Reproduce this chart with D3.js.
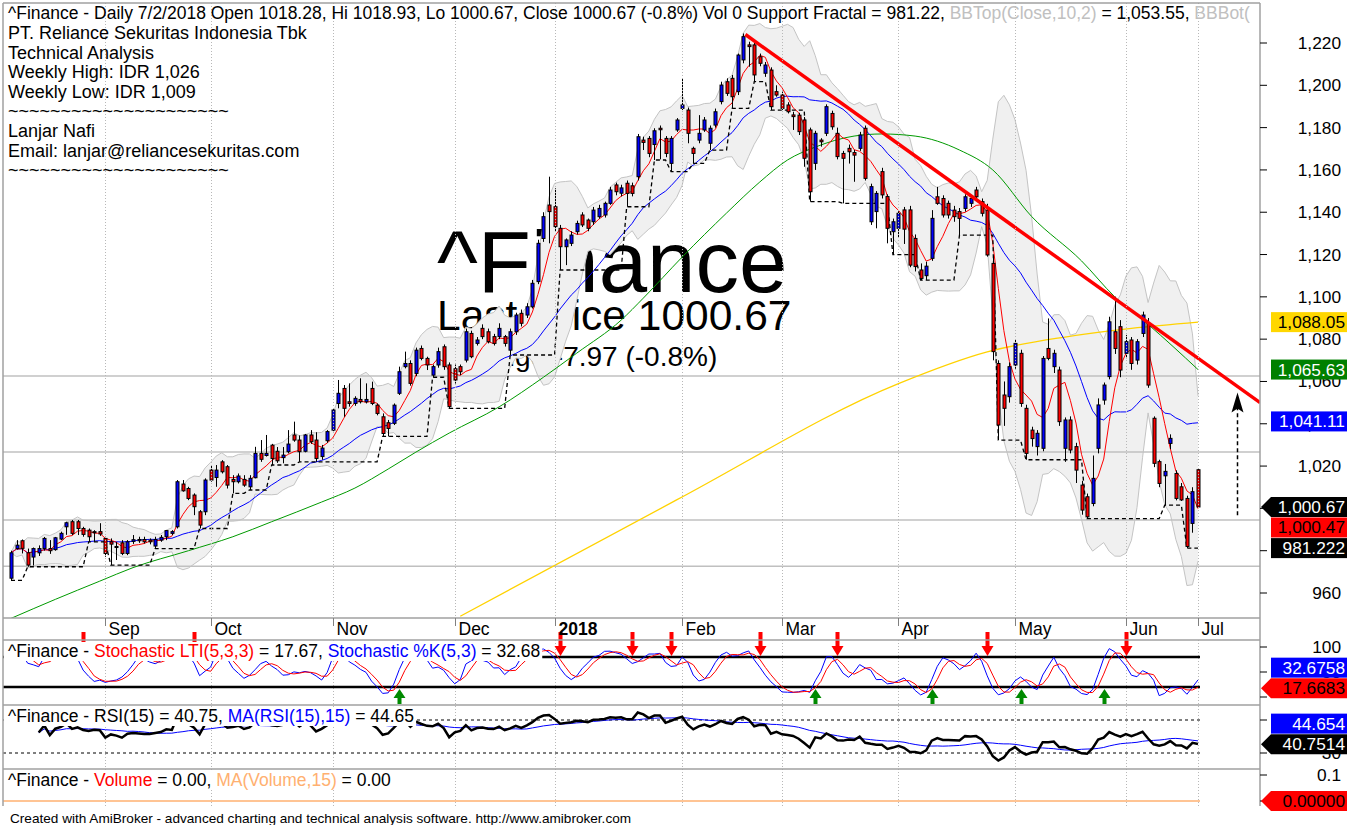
<!DOCTYPE html>
<html><head><meta charset="utf-8">
<script src="https://cdn.jsdelivr.net/npm/d3@7"></script>
<style>body{margin:0;background:#fff;} svg{display:block;font-family:Arial,"Liberation Sans",sans-serif;} text{white-space:pre;}</style>
</head><body><svg id="c" width="1355" height="825"></svg>
<script>
// ---------------- DATA ----------------
const open=[967,981,984.7,979,977,979,981,981,980.5,985.5,991.3,993.7,993.7,990.5,989.7,989,989,985.8,984.2,982,983.7,978.7,984.4,985.3,985.3,985,982.2,985,986.6,988.2,
991.3,1011.5,1009.4,1006.3,998.4,998.4,1018.1,1014.6,1022,1019.7,1013.7,1012.6,1013.7,1010.2,1014.5,1026,1025,1029.9,1027,1024,1026.8,1034.7,1032.3,1027,1034.7,1032.3,1024.5,1032,1037,1049.6,
1056.7,1050.4,1049.6,1051.5,1050.4,1056.7,1048.8,1043.3,1040.5,1040.2,1054.4,1067,1068.5,1063.8,1075.6,1070.9,1063,1067.8,1076.4,1067.8,1066,1067,1070.1,1082.7,1078,1085.1,1083.5,1081.2,1081.2,1081.2,
1074.8,1083.5,1092.2,1091.4,1095.3,1107.2,1127.6,1143.4,1142.6,1132.4,1123.7,1125.3,1130.8,1138.7,1136.3,1135.5,1137.9,1138.7,1144.2,1152.9,1149,1153.7,1152.5,1156.8,1174.1,1174.9,1172,1179.7,1174.9,1163.1,
1178.9,1189.1,1188.3,1170.2,1174.1,1178.9,1172.6,1181.2,1192.3,1201.7,1203.3,1197,1212,1219.1,1219.1,1213.5,1205.7,1207.2,1197,1195.4,1190.7,1186,1185.9,1183.6,1178.9,1163.1,1174.1,1177.3,1186.7,1177.3,
1167.8,1170.2,1168.2,1170.2,1179.7,1135.5,1140.3,1159.2,1147.4,1130.8,1132.4,1141.1,1141.1,1127.6,1112.7,1110,1118.2,1147.3,1146.5,1144.2,1141,1140.3,1141.8,1144.2,1150.5,1145,1141,1115.8,1068.5,1053.6,
1052.8,1067.8,1073.3,1047.3,1037,1029.2,1028.4,1075.6,1067,1065.4,1028.4,1041.8,1029.2,1011,1005.5,1002.3,1028.4,1051.2,1062.3,1083.5,1085.9,1073.3,1079.6,1070.1,1082.7,1087.4,1042.6,1022.1,1015.4,1030.7,
1016.5,1010.2,1004.7,992.9,1018.28];
const high=[980,985,985.3,981,981.5,982.5,986.5,985,986.5,989,993.7,994.5,994.5,991.3,990.5,989.7,993,986.6,985.8,984.2,985,985,987.4,986.6,986.6,985.8,986.6,987.4,989.7,989.7,
1013.4,1013.4,1010.2,1007.1,999.2,1014.2,1020.5,1020.5,1022.8,1020.5,1015.7,1016.5,1015.7,1015.7,1029.1,1032.3,1034.7,1030.5,1029,1029,1037,1041,1034.5,1035.2,1037,1036,1030,1037,1047,1060.7,
1058.3,1059.1,1053,1061.5,1059.1,1059.9,1049.6,1044.9,1041.8,1049.6,1067,1074.1,1070,1076,1077,1071.7,1068,1076,1077.5,1069,1068,1068,1085,1084,1081,1087,1085,1082.5,1087.5,1082,
1085,1092.5,1094,1097,1108,1127,1140,1156.8,1151.3,1134,1127.6,1131,1136,1140,1137,1142.5,1143.5,1145,1152,1154,1153,1155,1154,1177,1175.7,1176,1179.7,1181,1176,1176,
1184.5,1203.3,1189.5,1171,1185.9,1185,1181,1189,1201.7,1203.3,1204.9,1215,1224.5,1220.6,1220,1215,1211,1208.5,1200,1197,1192,1187.5,1187,1185,1180,1178.5,1175,1191,1188,1180,
1169,1172,1169.5,1178,1181,1153.5,1150,1161,1148.5,1137,1140.5,1142.5,1143,1129.5,1115.8,1116.6,1141,1152,1148,1145.5,1143,1142,1148.5,1148,1152,1146.5,1144,1119,1070,1060,
1069,1080,1075,1049,1038.6,1037,1072,1089.8,1075,1067,1043,1043.5,1031,1013,1007,1025,1052,1059.5,1090.6,1100.1,1089,1082,1081,1080,1093,1090,1043.5,1023,1021,1035,
1018,1012,1006,1010,1018.93];
const low=[966,980.5,978.7,972.4,973,977.5,980,978.5,980,985,987.5,987.4,987.4,986.6,984.2,984.2,987,977.1,973.2,975.6,977.9,977.9,983.2,983.7,983.4,983,981,984.2,985,987.4,
990.5,1007.9,1003.9,996.8,990.5,996.8,1012.6,1010.2,1016.5,1009.4,1007.1,1011.8,1010.2,1008.7,1014.2,1022,1024.5,1020.5,1021.5,1021.3,1026,1031.5,1022,1026.5,1030.5,1022,1023,1031,1036.5,1047.3,
1043.3,1048.1,1048.5,1049.6,1049.6,1048.8,1044,1034,1034,1039.4,1053.6,1066.2,1058,1062.5,1070,1065.4,1062,1066.5,1065.5,1047.3,1059,1063,1069,1071,1077,1080,1078,1077,1080,1076.5,
1072.5,1082,1086,1090,1094.5,1106,1126,1125.3,1130.8,1112.7,1115,1124,1129.5,1133,1131,1134,1137,1137.5,1143.5,1148,1147.5,1142.6,1147.5,1155,1169.4,1166,1164.7,1165,1166,1159.2,
1178,1188.3,1172.6,1163.1,1172.6,1178,1169.4,1180,1191,1195,1189.1,1195.4,1210.4,1208.8,1201.7,1209,1204,1188.3,1194.6,1188.3,1186.7,1178.9,1176.5,1161.5,1145,1160,1171,1176,1179,1165,
1144.2,1163,1154.4,1169,1155,1134,1132.4,1146.5,1125.3,1120,1128,1125,1114,1112,1107.9,1108,1117,1143.5,1137.5,1137,1135.5,1129.2,1140.3,1142.5,1146,1138,1119,1070,1032.3,1039,
1050,1066,1048,1023,1029.2,1025,1027,1070,1064,1039,1022,1026,1012,997,995.2,1001,1026,1049,1061,1073,1062,1071,1065.5,1068,1081,1057,1019.5,1010,1001.5,1028,
1003.8,1003.5,981.22,988.5,1000.67];
const close=[979,982.6,981.1,973.2,981,981,985.8,980,986.1,988.2,993.2,988.2,990.5,987.7,986.6,988.5,987.9,978.7,983.1,981.5,978.7,984.2,985.2,984.7,984.2,984.2,985.3,986.3,989.5,989,
1012.6,1008.3,1004.7,1000.8,992.1,1013.4,1013.4,1018.1,1017.3,1011,1012.6,1015.3,1011,1014.2,1026,1023.2,1026,1023.6,1022.5,1025.2,1030.4,1032.3,1026.8,1034.7,1031.5,1023.6,1028.5,1036.3,1046.5,1054.4,
1047.3,1049.6,1052,1050.4,1051.5,1049.6,1044.9,1035.4,1037.8,1048.8,1064.6,1068.5,1059.1,1074.8,1070.9,1067.8,1067,1074.1,1067,1048.1,1060.7,1064.6,1083.5,1071.7,1079.6,1081.2,1078.8,1078,1085.1,1078,
1083.5,1091.4,1087.5,1095.3,1106.4,1125.3,1137.9,1140.3,1133.2,1123.7,1126.9,1129.2,1134.7,1134,1132.4,1141,1141.8,1144.2,1150.5,1149.7,1151.5,1148.9,1148.9,1175.7,1173,1167.8,1178.5,1179,1167.8,1174.9,
1183.6,1190.7,1177.3,1167.8,1177.3,1183.6,1179.7,1187.5,1200.1,1196.2,1194.6,1214.3,1223,1218.3,1204.9,1210.4,1209.6,1189.9,1195.4,1189.1,1187.5,1185.2,1178.1,1165.5,1149.7,1177.3,1173.3,1189.9,1180.4,1166.3,
1165.5,1168.6,1167,1176.5,1156,1152.1,1148.9,1148.2,1132.4,1135.5,1139.5,1132,1115,1114.3,1108.7,1114.5,1137.1,1144.2,1138.7,1138.7,1137.9,1137.1,1147.3,1146.5,1147.3,1139.5,1119.8,1074.1,1039.4,1047.3,
1067,1078,1049.6,1026,1033,1035.5,1070.9,1070.9,1073.3,1041,1041.8,1027.6,1018.1,999.2,996,1014.2,1048.9,1058.3,1088.2,1075.6,1065.4,1078.8,1068.5,1078.8,1091.4,1058.3,1021.3,1011.8,1017.5,1033.1,
1004.7,1004,982,1007.9,1000.67];

// MA(50) and MA(200) (their history starts before the visible window)
const ma50Idx=[0,8,16,22,32,40,47,56,62,68,73,79,88,96,102,110,114,121,129,135,140,145,152,157,163,171,177,184,193,199,205,214];
const ma50Val=[948,957,965.6,972,980,986.6,993.7,1003,1009.6,1018.6,1026.6,1035.6,1048,1062,1073.4,1089,1099.4,1118.8,1139.6,1154.3,1164.7,1170.8,1176,1177,1176,1169.4,1160,1138,1117,1100,1087,1065.63];
const ma200Idx=[81,120,160,176,190,202,214];
const ma200Val=[949,1004,1059,1074,1081,1085.1,1088.05];

const monthLabels=['Sep','Oct','Nov','Dec','2018','Feb','Mar','Apr','May','Jun','Jul'];
const monthIdx=[17,36,58,80,98,121,139,160,181,201,214];
const priceTicks=[960,980,1000,1020,1040,1060,1080,1100,1120,1140,1160,1180,1200,1220];
const hLevels=[1062.6,1026.6,994.5,972.7];
const sellIdx=[13,33,99,112,119,135,149,176,201];
const buyIdx=[70,145,166,182,197];
const trendIdx=[132.4,225.2], trendVal=[1224,1050];
const arrowIdx=221, arrowFrom=996.8, arrowTo=1054.8;

const infoLines=['PT. Reliance Sekuritas Indonesia Tbk','Technical Analysis','Weekly High: IDR 1,026','Weekly Low: IDR 1,009','~~~~~~~~~~~~~~~~~~~~~','Lanjar Nafi','Email: lanjar@reliancesekuritas.com','~~~~~~~~~~~~~~~~~~~~~'];

// ---------------- INDICATORS ----------------
const N=close.length;
function sma(a,n){return a.map((v,i)=>{let s=0,c=0;for(let k=Math.max(0,i-n+1);k<=i;k++){if(a[k]!=null){s+=a[k];c++;}}return c?s/c:null;});}
const ma5=sma(close,5), ma20=sma(close,20);
const bbU=[],bbL=[];
close.forEach((v,i)=>{const w=close.slice(Math.max(0,i-9),i+1);const m=d3.mean(w);const sd=Math.sqrt(d3.mean(w.map(q=>(q-m)*(q-m))));bbU.push(m+2*sd);bbL.push(m-2*sd);});
const raw=close.map((c,i)=>{const hh=d3.max(high.slice(Math.max(0,i-4),i+1)),ll=d3.min(low.slice(Math.max(0,i-4),i+1));return hh>ll?(c-ll)/(hh-ll)*100:50;});
const stK=sma(raw,3), stD=sma(stK,3);
const rsi=[null];let ag=0,al=0;
for(let i=1;i<N;i++){const d=close[i]-close[i-1],g=Math.max(d,0),l=Math.max(-d,0);
 if(i<=15){ag=(ag*(i-1)+g)/i;al=(al*(i-1)+l)/i;}else{ag=(ag*14+g)/15;al=(al*14+l)/15;}
 rsi.push(i<5?null:(al===0?100:100-100/(1+ag/al)));}
const rsiMa=sma(rsi,15);
const sup=[];let lev=low[0];
for(let i=0;i<N;i++){
 const ok=(k)=>k<0||low[i]<low[k];
 const okf=(k)=>k<N&&low[i]<=low[k];
 if(i>0&&ok(i-1)&&ok(i-2)&&okf(i+1)&&okf(i+2))lev=low[i];
 sup.push(lev);}

// ---------------- LAYOUT ----------------
const svg=d3.select('#c');
const PL=3,PR=1260,MT=3,MB=618,ST=640,SB=705,RB=769,VB=806;
const x=d3.scaleLinear().domain([0,N-1]).range([11,1198]);
const y=d3.scaleLinear().domain([960,1220]).range([593,43]);
const ys=d3.scaleLinear().domain([0,100]).range([697,647]);
const yr=d3.scaleLinear().domain([30,70]).range([753,720]);
const yv=d3.scaleLinear().domain([0,0.1]).range([801,775]);
const FS=17.3, TFS=17.5;

const defs=svg.append('defs');
function clip(id,x0,y0,x1,y1){defs.append('clipPath').attr('id',id).append('rect').attr('x',x0).attr('y',y0).attr('width',x1-x0).attr('height',y1-y0);}
clip('cm',PL,MT,PR,MB);clip('cs',PL,ST,PR,SB);clip('cr',PL,SB,PR,RB);clip('cv',PL,RB,PR,VB);clip('ct',PL,MT,PR-2,MB);

const gm=svg.append('g').attr('clip-path','url(#cm)');
gm.append('text').attr('x',437).attr('y',292).attr('font-size',87).attr('fill','#000').text('^Finance');
gm.append('text').attr('x',437).attr('y',330).attr('font-size',42.5).attr('fill','#000').text('Last Price 1000.67');
gm.append('text').attr('x',448).attr('y',366).attr('font-size',28).attr('fill','#000').text('Change -7.97 (-0.8%)');

const idx=d3.range(N);
gm.append('path').datum(idx).attr('fill','#f0f0f0').attr('d',d3.area().x(i=>x(i)).y0(i=>y(bbL[i])).y1(i=>y(bbU[i])));
[bbU,bbL].forEach(a=>gm.append('path').datum(idx).attr('fill','none').attr('stroke','#c4c4c4').attr('stroke-width',1).attr('d',d3.line().x(i=>x(i)).y(i=>y(a[i]))));

monthIdx.forEach(m=>{const xx=Math.round(x(m))+0.5;
 svg.append('line').attr('x1',xx).attr('x2',xx).attr('y1',MT).attr('y2',MB).attr('stroke','#b8b8b8').attr('stroke-dasharray','1,2');
 svg.append('line').attr('x1',xx).attr('x2',xx).attr('y1',ST).attr('y2',VB).attr('stroke','#b8b8b8').attr('stroke-dasharray','1,2');});

hLevels.forEach(v=>gm.append('line').attr('x1',PL).attr('x2',PR).attr('y1',y(v)).attr('y2',y(v)).attr('stroke','#c0c0c0').attr('stroke-width',1.5));

gm.append('path').datum(ma200Idx.map((k,j)=>[k,ma200Val[j]])).attr('fill','none').attr('stroke','#ffd200').attr('stroke-width',1.3).attr('d',d3.line().curve(d3.curveMonotoneX).x(d=>x(d[0])).y(d=>y(d[1])));
gm.append('path').datum(ma50Idx.map((k,j)=>[k,ma50Val[j]])).attr('fill','none').attr('stroke','#009a00').attr('stroke-width',1).attr('d',d3.line().curve(d3.curveMonotoneX).x(d=>x(d[0])).y(d=>y(d[1])));
gm.append('path').datum(idx).attr('fill','none').attr('stroke','#0000ff').attr('stroke-width',1).attr('d',d3.line().x(i=>x(i)).y(i=>y(ma20[i])));
gm.append('path').datum(idx).attr('fill','none').attr('stroke','#ff0000').attr('stroke-width',1).attr('d',d3.line().x(i=>x(i)).y(i=>y(ma5[i])));
gm.append('path').datum(idx).attr('fill','none').attr('stroke','#000').attr('stroke-width',1.3).attr('stroke-dasharray','4,3').attr('d',d3.line().x(i=>x(i)).y(i=>y(sup[i])));

const gc=gm.append('g');
idx.forEach(i=>{const cx=Math.round(x(i));
 gc.append('line').attr('x1',cx+0.5).attr('x2',cx+0.5).attr('y1',y(high[i])).attr('y2',y(low[i])).attr('stroke','#000').attr('stroke-width',1);
 const up=close[i]>=open[i];const t=y(Math.max(open[i],close[i])),b=y(Math.min(open[i],close[i]));
 gc.append('rect').attr('x',cx-1).attr('y',t).attr('width',3).attr('height',Math.max(1,b-t)).attr('fill',up?'#0000ff':'#ff0000').attr('stroke','#000').attr('stroke-width',1);});

gm.append('line').attr('x1',x(trendIdx[0])).attr('y1',y(trendVal[0])).attr('x2',x(trendIdx[1])).attr('y2',y(trendVal[1])).attr('stroke','#ff0000').attr('stroke-width',3.5);
const ax=Math.round(x(arrowIdx))+0.5,at=y(arrowTo);
gm.append('line').attr('x1',ax).attr('x2',ax).attr('y1',y(arrowFrom)).attr('y2',at+14).attr('stroke','#000').attr('stroke-width',1.5).attr('stroke-dasharray','4,3');
gm.append('path').attr('d',`M${ax},${at} L${ax+6},${at+20} L${ax},${at+16} L${ax-6},${at+20} Z`).attr('fill','#000');

function rich(g,xx,yy,parts,size){const t=g.append('text').attr('x',xx).attr('y',yy).attr('font-size',size);parts.forEach(p=>t.append('tspan').attr('fill',p[1]).text(p[0]));return t;}
const gt=svg.append('g').attr('clip-path','url(#ct)');
rich(gt,8,19,[['^Finance - Daily 7/2/2018 Open 1018.28, Hi 1018.93, Lo 1000.67, Close 1000.67 (-0.8%) Vol 0 Support Fractal = 981.22, ','#000'],['BBTop(Close,10,2)','#c0c0c0'],[' = 1,053.55, ','#000'],['BBBot(','#c0c0c0']],TFS);
infoLines.forEach((s,k)=>gt.append('text').attr('x',8).attr('y',39+k*19.6).attr('font-size',18).attr('fill','#000').text(s));

// ---------- stochastic panel ----------
const gs=svg.append('g').attr('clip-path','url(#cs)');
[80,20].forEach(v=>gs.append('line').attr('x1',PL).attr('x2',x(N-1)+2).attr('y1',ys(v)).attr('y2',ys(v)).attr('stroke','#000').attr('stroke-width',2.5));
gs.append('path').datum(idx).attr('fill','none').attr('stroke','#0000ff').attr('stroke-width',1).attr('d',d3.line().x(i=>x(i)).y(i=>ys(stK[i])));
gs.append('path').datum(idx).attr('fill','none').attr('stroke','#ff0000').attr('stroke-width',1).attr('d',d3.line().x(i=>x(i)).y(i=>ys(stD[i])));
buyIdx.forEach(i=>{const cx=Math.round(x(i))+0.5,tip=ys(18)+1;
 svg.append('path').attr('d',`M${cx},${tip} L${cx+6},${tip+9} L${cx+2},${tip+9} L${cx+2},${tip+15} L${cx-2},${tip+15} L${cx-2},${tip+9} L${cx-6},${tip+9} Z`).attr('fill','#008a00');});
sellIdx.forEach(i=>{const cx=Math.round(x(i))+0.5,tip=ys(80)-1;
 svg.append('path').attr('d',`M${cx},${tip} L${cx+6},${tip-10} L${cx+2},${tip-10} L${cx+2},${tip-24} L${cx-2},${tip-24} L${cx-2},${tip-10} L${cx-6},${tip-10} Z`).attr('fill','#ff0000');});

// ---------- RSI panel ----------
const gr=svg.append('g').attr('clip-path','url(#cr)');
[70,30].forEach(v=>gr.append('line').attr('x1',PL).attr('x2',x(N-1)+2).attr('y1',yr(v)).attr('y2',yr(v)).attr('stroke','#000').attr('stroke-width',1.2).attr('stroke-dasharray','3,3'));
gr.append('path').datum(idx.filter(i=>rsiMa[i]!=null)).attr('fill','none').attr('stroke','#0000ff').attr('stroke-width',1).attr('d',d3.line().x(i=>x(i)).y(i=>yr(rsiMa[i])));
gr.append('path').datum(idx.filter(i=>rsi[i]!=null)).attr('fill','none').attr('stroke','#000').attr('stroke-width',2.5).attr('d',d3.line().x(i=>x(i)).y(i=>yr(rsi[i])));

// ---------- Volume panel ----------
const gv=svg.append('g').attr('clip-path','url(#cv)');
gv.append('line').attr('x1',PL).attr('x2',x(N-1)+2).attr('y1',yv(0)).attr('y2',yv(0)).attr('stroke','#ffb070').attr('stroke-width',1.5);

function titled(yy,parts){const g=svg.append('g');const t=rich(g,8,yy,parts,TFS);const w=t.node().getComputedTextLength();
 g.insert('rect','text').attr('x',PL+1).attr('y',yy-15).attr('width',w+6).attr('height',19).attr('fill','#fff');}
titled(657,[['^Finance - ','#000'],['Stochastic LTI(5,3,3)','#ff0000'],[' = 17.67, ','#000'],['Stochastic %K(5,3)','#0000ff'],[' = 32.68','#000']]);
titled(722,[['^Finance - ','#000'],['RSI(15)','#000'],[' = 40.75, ','#000'],['MA(RSI(15),15)','#0000ff'],[' = 44.65','#000']]);
titled(786,[['^Finance - ','#000'],['Volume','#ff0000'],[' = 0.00, ','#000'],['MA(Volume,15)','#ffb070'],[' = 0.00','#000']]);

// ---------- frame ----------
const fc='#a0a0a0';
[[PL,MT,PL,VB],[PR,MT,PR,VB],[PL,MT,PR,MT],[PL,MB,PR,MB],[PL,ST,PR,ST],[PL,SB,PR,SB],[PL,RB,PR,RB]].forEach(l=>svg.append('line').attr('x1',l[0]).attr('y1',l[1]).attr('x2',l[2]).attr('y2',l[3]).attr('stroke',fc).attr('stroke-width',1.5));

monthIdx.forEach((m,k)=>{const xx=Math.round(x(m))+0.5;
 svg.append('line').attr('x1',xx).attr('x2',xx).attr('y1',MB).attr('y2',MB+8).attr('stroke','#808080');
 svg.append('text').attr('x',xx+3).attr('y',MB+17).attr('font-size',17.5).attr('font-weight',monthLabels[k]==='2018'?'bold':'normal').text(monthLabels[k]);});

function yTick(yy,label){svg.append('line').attr('x1',PR).attr('x2',PR+7).attr('y1',yy).attr('y2',yy).attr('stroke','#000');
 if(label!=null)svg.append('text').attr('x',1341).attr('y',yy+6).attr('text-anchor','end').attr('font-size',FS).text(label);}
priceTicks.forEach(v=>yTick(y(v),d3.format(',')(v)));
yTick(ys(100),'100');yTick(ys(50),'50');yTick(ys(0),null);
yTick(yr(70),'70');yTick(yr(30),'30');
yTick(yv(0.1),'0.1');yTick(yv(0),null);

function tags(list){
 const anchor=list.find(t=>t[5]);const placed=[];const H=20.5;
 const ay=anchor?anchor[1](anchor[0]):null;if(anchor)placed.push(ay);
 list.filter(t=>!t[5]).map(t=>({t,n:t[1](t[0])})).sort((a,b)=>Math.abs(a.n-(ay??a.n))-Math.abs(b.n-(ay??b.n))).forEach(o=>{
   let yy=o.n;const dir=(ay!=null&&o.n<ay)?-1:1;
   let guard=0;while(placed.some(p=>Math.abs(p-yy)<H)&&guard++<20){const c=placed.find(p=>Math.abs(p-yy)<H);yy=c+dir*H;}
   placed.push(yy);o.t.y=yy;});
 if(anchor)anchor.y=ay;
 list.forEach(t=>{const yy=t.y,x0=1271,x1=1347;
  if(t[5])svg.append('path').attr('d',`M${PR+1},${yy} L${x0},${yy-10} L${x1},${yy-10} L${x1},${yy+10} L${x0},${yy+10} Z`).attr('fill',t[3]);
  else svg.append('rect').attr('x',x0).attr('y',yy-10).attr('width',x1-x0).attr('height',20).attr('fill',t[3]);
  svg.append('text').attr('x',x1-2).attr('y',yy+6).attr('text-anchor','end').attr('font-size',FS).attr('fill',t[4]).text(t[2]);});}
tags([[1088.05,y,'1,088.05','#ffd700','#000'],[1065.63,y,'1,065.63','#008000','#fff'],[1041.11,y,'1,041.11','#0000ff','#fff'],
 [1000.67,y,'1,000.67','#000','#fff',true],[1000.47,y,'1,000.47','#ff0000','#000'],[981.222,y,'981.222','#000','#fff']]);
tags([[32.6758,ys,'32.6758','#0000ff','#fff'],[17.6683,ys,'17.6683','#ff0000','#000',true]]);
tags([[44.654,yr,'44.654','#0000ff','#fff'],[40.7514,yr,'40.7514','#000','#fff',true]]);
tags([[0,yv,'0.00000','#ff0000','#000',true]]);

svg.append('text').attr('x',10).attr('y',823).attr('font-size',13.6).attr('fill','#000').text('Created with AmiBroker - advanced charting and technical analysis software. http://www.amibroker.com');
</script></body></html>
